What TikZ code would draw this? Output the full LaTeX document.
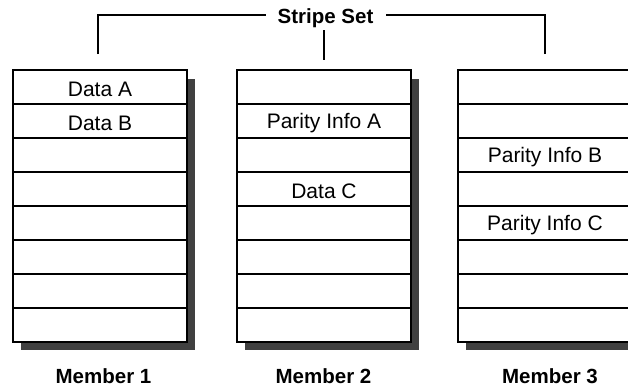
\documentclass[tikz,border=0pt]{standalone}
\usepackage{fontspec}
\setmainfont{Liberation Sans}
\definecolor{shadowgray}{HTML}{404040}
\begin{document}
\begin{tikzpicture}[x=1pt,y=-1pt,
  cell/.style={draw=black, line width=1.1pt, fill=white, minimum width=174pt,
    minimum height=34pt, inner sep=0pt},
  celltext/.style={inner sep=0pt, yshift=-2.5pt, font=\fontsize{21}{25}\selectfont},
  lbl/.style={inner sep=0pt, anchor=base, font=\bfseries\fontsize{20.5}{24}\selectfont},
  bracket/.style={line width=1.6pt, draw=black}]
\useasboundingbox (0,0) rectangle (628,388);
\clip (0,0) rectangle (628,388);
% members: shadows and cells
\foreach \b/\L in {1/13,2/237,3/458} {
  \fill[shadowgray] (\L+8,79) rectangle (\L+182,350);
  \foreach \r in {1,...,8}
    \node[cell] (c\b-\r) at (\L+87,53+34*\r) {};
}
% cell texts
\node[celltext] (tA)  at (c1-1) {Data A};
\node[celltext] (tB)  at (c1-2) {Data B};
\node[celltext] (pA)  at (c2-2) {Parity Info A};
\node[celltext] (tC)  at (c2-4) {Data C};
\node[celltext] (pB)  at (c3-3) {Parity Info B};
\node[celltext] (pC)  at (c3-5) {Parity Info C};
% member labels
\node[lbl] (m1) at (103.5,383) {Member 1};
\node[lbl] (m2) at (323.5,383) {Member 2};
\node[lbl] (m3) at (550,383) {Member 3};
% stripe set bracket
\node[lbl] (ss) at (325.5,23.5) {Stripe Set};
\coordinate (bl) at (98,54);
\coordinate (br) at (545,54);
\coordinate (bm) at (324,60);
\draw[bracket] (bl) |- ([xshift=-11pt]ss.west |- 0,15);
\draw[bracket] (br) |- ([xshift=12pt]ss.east |- 0,15);
\draw[line width=1.4pt] (324,30) -- (bm);
\end{tikzpicture}
\end{document}
